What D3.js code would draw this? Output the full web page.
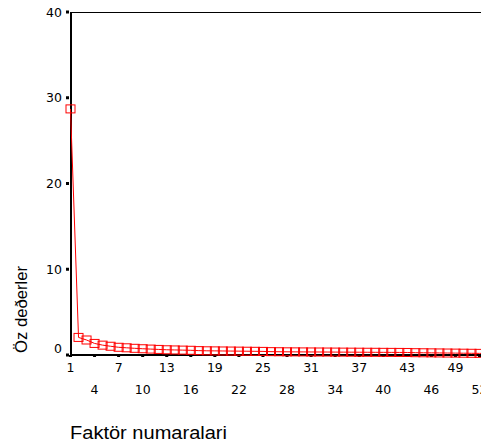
<!DOCTYPE html>
<html><head><meta charset="utf-8">
<script src="https://cdn.jsdelivr.net/npm/d3@7/dist/d3.min.js"></script>
<style>body{margin:0;background:#fff;overflow:hidden}svg{display:block}</style>
</head><body>
<script>
const factors = d3.range(1, 56);
const eigenvalues = [28.7, 2.05, 1.75, 1.35, 1.15, 1.02, 0.9, 0.84, 0.78, 0.73,
  0.69, 0.65, 0.61, 0.59, 0.57, 0.55, 0.51, 0.49, 0.48, 0.47,
  0.46, 0.45, 0.44, 0.43, 0.42, 0.39, 0.38, 0.37, 0.365, 0.36,
  0.355, 0.35, 0.345, 0.34, 0.335, 0.33, 0.325, 0.32, 0.315, 0.31,
  0.305, 0.30, 0.295, 0.27, 0.26, 0.25, 0.24, 0.23, 0.22, 0.21,
  0.2, 0.19, 0.18, 0.17, 0.16];
const yTicks = [0, 10, 20, 30, 40];
const xTicks = [1,4,7,10,13,16,19,22,25,28,31,34,37,40,43,46,49,52];
const xTitle = "Faktör numaralari";
const yTitle = "Öz deðerler";

const W = 481, H = 444;
const svg = d3.select("body").append("svg").attr("width", W).attr("height", H);
const x = d3.scaleLinear().domain([1, 52]).range([70.5, 479.5]);
const y = d3.scaleLinear().domain([0, 40]).range([355, 12]);
const font = "'DejaVu Sans', sans-serif";

// frame
svg.append("line").attr("x1", 71).attr("x2", W).attr("y1", 12.5).attr("y2", 12.5)
  .attr("stroke", "#000").attr("stroke-width", 1);
svg.append("line").attr("x1", 71).attr("x2", 71).attr("y1", 12).attr("y2", 356)
  .attr("stroke", "#000").attr("stroke-width", 2);
svg.append("line").attr("x1", 70).attr("x2", W).attr("y1", 355).attr("y2", 355)
  .attr("stroke", "#000").attr("stroke-width", 2);

// y ticks
const yg = svg.append("g");
yTicks.forEach(t => {
  yg.append("rect").attr("x", 66).attr("y", y(t) - 1.5).attr("width", 3).attr("height", 3).attr("fill", "#000");
  yg.append("text").attr("x", 62).attr("y", y(t) + (t === 0 ? -2 : 4.5))
    .attr("text-anchor", "end").attr("font-family", font).attr("font-size", 12.5)
    .attr("fill", "#000").text(t);
});

// x ticks
const xg = svg.append("g");
xTicks.forEach((t, i) => {
  xg.append("rect").attr("x", x(t) - 1.5).attr("y", 355).attr("width", 3).attr("height", 2).attr("fill", "#000");
  xg.append("text").attr("x", x(t)).attr("y", i % 2 === 0 ? 371.5 : 394)
    .attr("text-anchor", "middle").attr("font-family", font).attr("font-size", 12.5)
    .attr("fill", "#000").text(t);
});

// series
const data = factors.map((f, i) => ({f, v: eigenvalues[i]}));
const line = d3.line().x(d => x(d.f)).y(d => y(d.v));
svg.append("path").datum(data).attr("d", line).attr("fill", "none")
  .attr("stroke", "#ff0000").attr("stroke-width", 1);
svg.append("g").selectAll("rect").data(data).join("rect")
  .attr("x", d => x(d.f) - 4.5).attr("y", d => y(d.v) - 4)
  .attr("width", 9).attr("height", 8)
  .attr("fill", "none").attr("stroke", "#ff0000").attr("stroke-width", 1);

// titles
svg.append("text").attr("x", 70).attr("y", 439).attr("font-family", "'Liberation Sans', Arial, sans-serif")
  .attr("font-size", 17.5).attr("textLength", 157).attr("lengthAdjust", "spacingAndGlyphs")
  .attr("fill", "#000").text(xTitle);
svg.append("text").attr("transform", "translate(27,353) rotate(-90)")
  .attr("font-family", "'Liberation Sans', Arial, sans-serif").attr("font-size", 16)
  .attr("textLength", 87).attr("lengthAdjust", "spacingAndGlyphs")
  .attr("fill", "#000").text(yTitle);
</script>
</body></html>
